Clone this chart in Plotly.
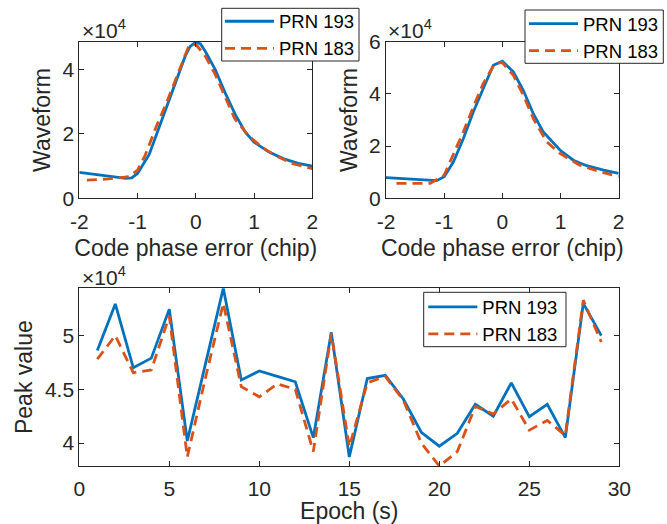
import plotly.graph_objects as go

# ---------------- data ----------------
# Top-left panel: waveform vs code phase error
tl_x_193 = [-2.0, -1.5, -1.2, -1.1, -1.0, -0.8, -0.64, -0.5, -0.35, -0.18, -0.1, 0.0, 0.08, 0.16, 0.33, 0.5, 0.67, 0.85, 1.0, 1.25, 1.5, 1.76, 2.0]
tl_y_193 = [8000, 7000, 6200, 6300, 7700, 13600, 21500, 28500, 35600, 44100, 47000, 48400, 47800, 45600, 40000, 32800, 26200, 20500, 17400, 14400, 12300, 10800, 10000]
tl_x_183 = [-1.87, -1.5, -1.15, -1.0, -0.87, -0.67, -0.5, -0.35, -0.13, 0.0, 0.16, 0.33, 0.5, 0.67, 0.9, 1.13, 1.36, 1.65, 2.0]
tl_y_183 = [5600, 6000, 6700, 8700, 13300, 22600, 29700, 36400, 46700, 47700, 44100, 38500, 31300, 24600, 19500, 15900, 13300, 10800, 9200]

# Top-right panel
tr_x_193 = [-2.0, -1.53, -1.13, -1.0, -0.84, -0.67, -0.5, -0.33, -0.155, 0.0, 0.19, 0.36, 0.53, 0.7, 0.99, 1.22, 1.45, 1.74, 2.0]
tr_y_193 = [7900, 7300, 6750, 8300, 14000, 22900, 33100, 42000, 51000, 52500, 48400, 41400, 32500, 25500, 18500, 14600, 12500, 10800, 9550]
tr_x_183 = [-1.82, -1.24, -1.0, -0.87, -0.67, -0.5, -0.33, -0.13, 0.0, 0.19, 0.36, 0.53, 0.76, 0.99, 1.33, 1.68, 2.0]
tr_y_183 = [5700, 5700, 8900, 15300, 25500, 35000, 43900, 51600, 52000, 47100, 39500, 30600, 21700, 17200, 12700, 10200, 8300]

# Bottom panel: peak value per epoch
epochs = list(range(1, 30))
peak_193 = [48600, 52950, 47000, 47900, 52460, 40190, 47300, 54400, 45870, 46700, 46200, 45700, 40500,
            50300, 38700, 46000, 46300, 44100, 41000, 39700, 40900, 43600, 42500, 45600, 42450, 43600,
            40500, 53000, 50000]
peak_183 = [47800, 50000, 46550, 46800, 51800, 38700, 46000, 53000, 45250, 44300, 45500, 45000, 39200,
            50200, 39650, 45600, 46200, 44000, 40000, 37860, 39200, 43400, 42700, 44100, 41200, 42100,
            40700, 53300, 49400]

series_names = ["PRN 193", "PRN 183"]
tl_ticks_x = [-2, -1, 0, 1, 2]
tl_ticktext_x = ["-2", "-1", "0", "1", "2"]
tl_ticks_y = [0, 20000, 40000]
tl_ticktext_y = ["0", "2", "4"]
tr_ticks_y = [0, 20000, 40000, 60000]
tr_ticktext_y = ["0", "2", "4", "6"]
b_ticks_x = [0, 5, 10, 15, 20, 25, 30]
b_ticks_y = [40000, 45000, 50000]
b_ticktext_y = ["4", "4.5", "5"]

# ---------------- style ----------------
BLUE = "#0072BD"
RED = "#D95319"
INK = "#262626"
FONT = "Liberation Sans, Arial, Helvetica, sans-serif"
LW = 2.8
DASH = "10px,6px"

W, H = 667, 524


def px_x(p):
    return p / W


def px_y(p):
    return 1 - p / H


fig = go.Figure()

fig.add_trace(go.Scatter(x=tl_x_193, y=tl_y_193, mode="lines", name=series_names[0],
                         line=dict(color=BLUE, width=LW), xaxis="x", yaxis="y", legend="legend"))
fig.add_trace(go.Scatter(x=tl_x_183, y=tl_y_183, mode="lines", name=series_names[1],
                         line=dict(color=RED, width=LW, dash=DASH), xaxis="x", yaxis="y", legend="legend"))
fig.add_trace(go.Scatter(x=tr_x_193, y=tr_y_193, mode="lines", name=series_names[0],
                         line=dict(color=BLUE, width=LW), xaxis="x2", yaxis="y2", legend="legend2"))
fig.add_trace(go.Scatter(x=tr_x_183, y=tr_y_183, mode="lines", name=series_names[1],
                         line=dict(color=RED, width=LW, dash=DASH), xaxis="x2", yaxis="y2", legend="legend2"))
fig.add_trace(go.Scatter(x=epochs, y=peak_193, mode="lines", name=series_names[0],
                         line=dict(color=BLUE, width=LW), xaxis="x3", yaxis="y3", legend="legend3"))
fig.add_trace(go.Scatter(x=epochs, y=peak_183, mode="lines", name=series_names[1],
                         line=dict(color=RED, width=LW, dash=DASH), xaxis="x3", yaxis="y3", legend="legend3"))

axis_common = dict(
    showline=True, linecolor=INK, linewidth=1, mirror="ticks",
    ticks="inside", ticklen=5, tickcolor=INK, tickwidth=1,
    showgrid=False, zeroline=False,
    tickfont=dict(family=FONT, size=21, color=INK),
    title_font=dict(family=FONT, size=23, color=INK),
)

top_y_dom = [px_y(198.3), px_y(41.7)]
bot_y_dom = [px_y(466), px_y(288.3)]

fig.update_layout(
    xaxis=dict(axis_common, domain=[px_x(79.3), px_x(312.3)], anchor="y", range=[-2, 2],
               tickvals=tl_ticks_x, ticktext=tl_ticktext_x, ticklabelstandoff=4,
               title=dict(text="Code phase error (chip)", standoff=8)),
    yaxis=dict(axis_common, domain=top_y_dom, anchor="x", range=[0, 48500],
               tickvals=tl_ticks_y, ticktext=tl_ticktext_y,
               title=dict(text="Waveform", standoff=5)),
    xaxis2=dict(axis_common, domain=[px_x(386), px_x(618.7)], anchor="y2", range=[-2, 2],
                tickvals=tl_ticks_x, ticktext=tl_ticktext_x, ticklabelstandoff=4,
                title=dict(text="Code phase error (chip)", standoff=8)),
    yaxis2=dict(axis_common, domain=top_y_dom, anchor="x2", range=[0, 60000],
                tickvals=tr_ticks_y, ticktext=tr_ticktext_y,
                title=dict(text="Waveform", standoff=5)),
    xaxis3=dict(axis_common, domain=[px_x(79.3), px_x(619.3)], anchor="y3", range=[0, 30],
                tickvals=b_ticks_x, ticklabelstandoff=4,
                title=dict(text="Epoch (s)", standoff=0)),
    yaxis3=dict(axis_common, domain=bot_y_dom, anchor="x3", range=[37860, 54400],
                tickvals=b_ticks_y, ticktext=b_ticktext_y,
                title=dict(text="Peak value", standoff=5)),
    width=W, height=H,
    margin=dict(l=0, r=0, t=0, b=0, autoexpand=False),
    paper_bgcolor="white", plot_bgcolor="white",
    showlegend=True,
)

# legend boxes (drawn as frames; legend entries placed inside)
for (x0, x1, y0, y1) in [(221.7, 359, 8.3, 61), (525, 663.3, 10, 63.3), (423.7, 566, 292.3, 346.7)]:
    fig.add_shape(type="rect", xref="paper", yref="paper",
                  x0=px_x(x0), x1=px_x(x1), y0=px_y(y1), y1=px_y(y0),
                  fillcolor="white", line=dict(color=INK, width=1), layer="above")

leg_common = dict(
    bgcolor="rgba(0,0,0,0)", borderwidth=0,
    font=dict(family=FONT, size=18.5, color="black"),
    xanchor="left", yanchor="top", itemwidth=49, tracegroupgap=0,
)
fig.update_layout(
    legend=dict(leg_common, x=px_x(220), y=px_y(2.7)),
    legend2=dict(leg_common, x=px_x(524), y=px_y(5)),
    legend3=dict(leg_common, x=px_x(423.3), y=px_y(288.3)),
)

exp_font = dict(family=FONT, size=21, color=INK)
for (xp, yp) in [(80, 44), (386, 44), (80, 291)]:
    fig.add_annotation(text="×10<sup>4</sup>", xref="paper", yref="paper",
                       x=px_x(xp), y=px_y(yp), xanchor="left", yanchor="bottom",
                       showarrow=False, font=exp_font)

fig.write_html("out.html")
